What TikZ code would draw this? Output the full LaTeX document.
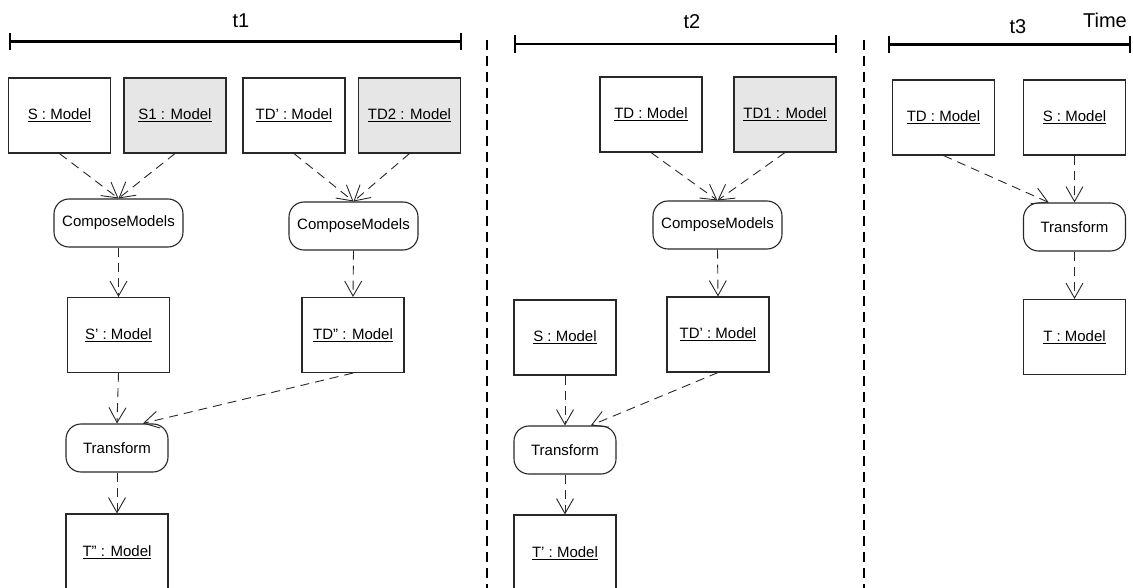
\documentclass[tikz,border=0pt]{standalone}
\usepackage{fontspec}
\setmainfont{Liberation Sans}
\usetikzlibrary{arrows.meta,calc}
\definecolor{objfill}{RGB}{230,230,230}
\definecolor{edge}{RGB}{40,40,40}
% straight quote marks for primed names
\newcommand{\pr}{\char39\relax}
\newcommand{\dpr}{\char34\relax}
\begin{document}
\begin{tikzpicture}[x=1pt,y=-1pt,
  obj/.style={draw=edge,line width=1.1pt,minimum width=102pt,minimum height=75pt,inner sep=0pt,
    font=\fontsize{15}{18}\selectfont},
  shaded/.style={obj,fill=objfill},
  act/.style={draw=edge,line width=1.1pt,rounded corners=15pt,minimum height=48pt,inner sep=0pt,
    font=\fontsize{15}{18}\selectfont},
  flow/.style={draw=edge,line width=0.9pt,dash pattern=on 9pt off 6pt,
    -{Straight Barb[length=15pt,width=17pt,line width=0.9pt]}},
  period/.style={line width=2.4pt},
  title/.style={font=\fontsize{20}{24}\selectfont,inner sep=0pt},
  separator/.style={line width=1.2pt,dash pattern=on 10pt off 6pt}]
\useasboundingbox (0,0) rectangle (1133,588);

% time periods
\draw[period] (10,41.5) -- (461,41.5);
\draw[period] (10,33) -- (10,50) (461,33) -- (461,50);
\draw[period] (515,44) -- (836,44);
\draw[period] (515,35) -- (515,53) (836,35) -- (836,53);
\draw[period] (889,44.5) -- (1130,44.5);
\draw[period] (889,36) -- (889,53) (1130,36) -- (1130,53);
\node[title] (lt1) at (241,21) {t1};
\node[title] (lt2) at (692,22) {t2};
\node[title] (lt3) at (1018,27) {t3};
\node[title] (ltime) at (1105,20) {Time};

% separators
\draw[separator] (487,40) -- (487,590);
\draw[separator] (864,40) -- (864,590);

% period t1
\node[obj]    (s)    at (59.5,115.5) {\underline{S : Model}};
\node[shaded] (s1)   at (175,115.5)  {\underline{S1 : Model}};
\node[obj]    (tdp)  at (294,115.5)  {\underline{TD\pr{} : Model}};
\node[shaded] (td2)  at (409.5,115.5){\underline{TD2 : Model}};
\node[act,minimum width=129pt] (cm1) at (118.5,223) {ComposeModels};
\node[act,minimum width=129pt] (cm2) at (353.5,226) {ComposeModels};
\node[obj]    (sp)   at (118.5,335)  {\underline{S\pr{} : Model}};
\node[obj]    (tdpp) at (353,335)    {\underline{TD\dpr{} : Model}};
\node[act,minimum width=102pt] (tr1) at (117,448) {Transform};
\node[obj,minimum height=76pt] (tpp) at (117,552) {\underline{T\dpr{} : Model}};

\draw[flow] (s.south) -- (cm1.north);
\draw[flow] (s1.south) -- (cm1.north);
\draw[flow] (tdp.south) -- (cm2.north);
\draw[flow] (td2.south) -- (cm2.north);
\draw[flow] (cm1.south) -- (sp.north);
\draw[flow] (cm2.south) -- (tdpp.north);
\draw[flow] (sp.south) -- (tr1.north);
\coordinate (tr1in) at ($(tr1.north)!0.5!(tr1.north east)$);
\draw[flow] (tdpp.south) -- (tr1in);
\draw[flow] (tr1.south) -- (tpp.north);

% period t2
\node[obj]    (tdb)  at (651,114.5) {\underline{TD : Model}};
\node[shaded] (td1)  at (785,114.5) {\underline{TD1 : Model}};
\node[act,minimum width=129pt] (cm3) at (717.5,225) {ComposeModels};
\node[obj]    (sb)   at (565,337.5) {\underline{S : Model}};
\node[obj]    (tdp2) at (718,334.5) {\underline{TD\pr{} : Model}};
\node[act,minimum width=102pt] (tr2) at (565,450) {Transform};
\node[obj,minimum height=76pt] (tp) at (565,553) {\underline{T\pr{} : Model}};

\draw[flow] (tdb.south) -- (cm3.north);
\draw[flow] (td1.south) -- (cm3.north);
\draw[flow] (cm3.south) -- (tdp2.north);
\draw[flow] (sb.south) -- (tr2.north);
\coordinate (tr2in) at ($(tr2.north)!0.5!(tr2.north east)$);
\draw[flow] (tdp2.south) -- (tr2in);
\draw[flow] (tr2.south) -- (tp.north);

% period t3
\node[obj] (tdc) at (943.5,117.5)  {\underline{TD : Model}};
\node[obj] (sc)  at (1074.5,117.5) {\underline{S : Model}};
\node[act,minimum width=102pt] (tr3) at (1074.5,227) {Transform};
\node[obj] (t)   at (1074.5,337)   {\underline{T : Model}};

\coordinate (tr3in) at ($(tr3.north)!0.5!(tr3.north west)$);
\draw[flow] (tdc.south) -- (tr3in);
\draw[flow] (sc.south) -- (tr3.north);
\draw[flow] (tr3.south) -- (t.north);
\end{tikzpicture}
\end{document}
